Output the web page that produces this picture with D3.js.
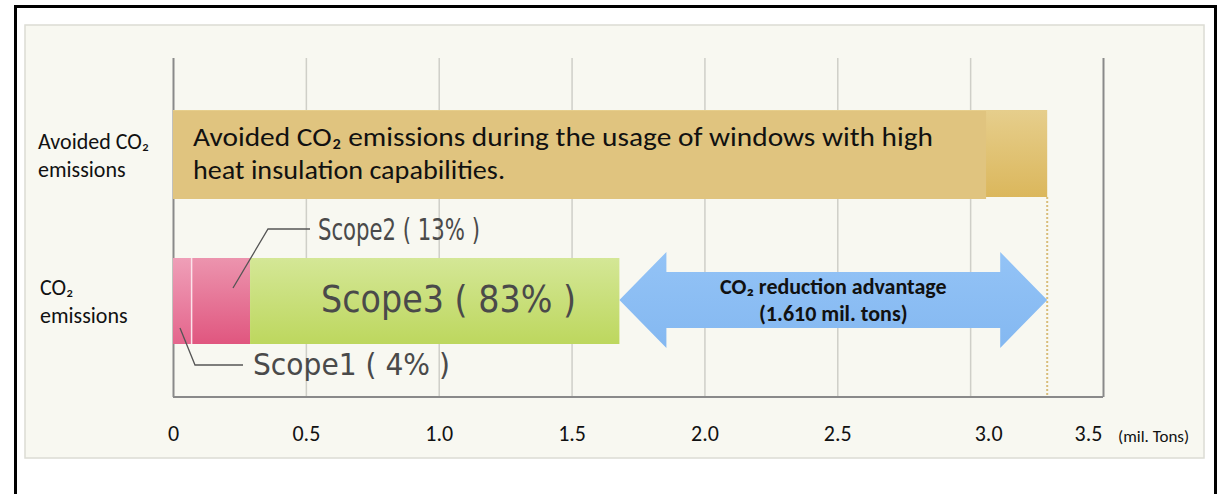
<!DOCTYPE html>
<meta charset="utf-8">
<style>
body { margin: 0; background: #fff; }
svg { display: block; }
.lab { font-family: Carlito, Lato, "Open Sans", sans-serif; fill: #111; }
.scope { font-family: "DejaVu Sans", "Noto Sans", sans-serif; fill: #4a4a4a; }
</style>
<body>
<div id="chart"></div>
<script src="https://d3js.org/d3.v7.min.js"></script>
<script>
// values (mil. tons)
var rows = ['Avoided', 'Emissions']
var scopeNames = ['Scope1', 'Scope2', 'Scope3']
var scopeShares = [4, 13, 83]
var scopeValues = [0.07, 0.22, 1.39]
var avoidedValue = 3.29
var reductionLabel = '(1.610 mil. tons)'
var xTicks = [0, 0.5, 1.0, 1.5, 2.0, 2.5, 3.0, 3.5]

var W = 1220, H = 494
var plot = { left: 173, right: 1103, top: 58, bottom: 397 }

var svg = d3.select('#chart').append('svg')
    .attr('width', W)
    .attr('height', H)

var defs = svg.append('defs')
function grad(id, top, bottom) {
    var g = defs.append('linearGradient').attr('id', id)
        .attr('x1', 0).attr('y1', 0).attr('x2', 0).attr('y2', 1)
    g.append('stop').attr('offset', 0).attr('stop-color', top)
    g.append('stop').attr('offset', 1).attr('stop-color', bottom)
}
grad('gPink1', '#ef9fb8', '#e4658c')
grad('gPink2', '#ec94ae', '#e0567f')
grad('gGreen', '#d4e796', '#bdd75e')
grad('gTan', '#e6ce8c', '#dbb75c')
grad('gBlue', '#93c3f6', '#84b8f1')

// frame + cream panel
svg.append('rect').attr('x', 15.5).attr('y', 6.5).attr('width', 1200).attr('height', 540)
    .style('fill', '#fff').style('stroke', '#000').style('stroke-width', 3)
svg.append('rect').attr('x', 25).attr('y', 25).attr('width', 1179).attr('height', 433)
    .style('fill', '#f8f8f1').style('stroke', '#dcdcd4').style('stroke-width', 1.5)

var x = d3.scaleLinear().domain([0, 3.5]).range([plot.left, plot.right])
var y = d3.scalePoint().domain(rows).range([154, 300])
var barH = 88

// grid
var grid = svg.append('g')
    .attr('transform', 'translate(0,' + plot.bottom + ')')
    .call(d3.axisBottom(x).tickValues(xTicks).tickSize(-(plot.bottom - plot.top)).tickFormat(''))
grid.select('.domain').remove()
grid.selectAll('.tick line')
    .style('stroke', function (d) { return d === 0 || d === 3.5 ? '#8a8a8a' : '#cfcfc8' })
    .style('stroke-width', function (d) { return d === 0 || d === 3.5 ? 2 : 1.5 })
svg.append('line')
    .attr('x1', x(0)).attr('x2', x(3.5))
    .attr('y1', plot.bottom).attr('y2', plot.bottom)
    .style('stroke', '#8a8a8a').style('stroke-width', 2)

// tick labels (the last two sit a little off their gridlines in the original)
var nudge = { 3: 18, 3.5: -15 }
var ax = svg.append('g')
    .attr('transform', 'translate(0,' + 441 + ')')
    .call(d3.axisBottom(x).tickValues(xTicks).tickSize(0)
        .tickFormat(function (d) { return d === 0 ? '0' : d3.format('.1f')(d) }))
ax.select('.domain').remove()
ax.selectAll('text')
    .attr('class', 'lab')
    .attr('y', 0).attr('dy', 0)
    .attr('dx', function (d) { return nudge[d] || 0 })
    .style('font-size', '22px')
    .style('fill', '#111')
svg.append('text').attr('class', 'lab')
    .attr('x', 1118).attr('y', 442)
    .style('font-size', '17px')
    .text('(mil. Tons)')

// avoided bar
var yA = y('Avoided') - barH / 2
svg.append('rect')
    .attr('x', x(0)).attr('y', yA)
    .attr('width', x(avoidedValue) - x(0)).attr('height', barH - 1)
    .style('fill', 'url(#gTan)')
svg.append('line')
    .attr('x1', x(avoidedValue)).attr('x2', x(avoidedValue))
    .attr('y1', yA + barH - 1).attr('y2', plot.bottom)
    .style('stroke', '#d9bd7a').style('stroke-width', 2).style('stroke-dasharray', '2,2')
svg.append('rect')
    .attr('x', x(0)).attr('y', yA + 1)
    .attr('width', x(3.06) - x(0)).attr('height', barH)
    .style('fill', '#e0c47f')

svg.append('text').attr('class', 'lab').attr('x', 193).attr('y', 146).style('font-size', '27px')
    .attr('textLength', 740).attr('lengthAdjust', 'spacingAndGlyphs')
    .text('Avoided CO\u2082 emissions during the usage of windows with high')
svg.append('text').attr('class', 'lab').attr('x', 193).attr('y', 179).style('font-size', '27px')
    .attr('textLength', 312).attr('lengthAdjust', 'spacingAndGlyphs')
    .text('heat insulation capabilities.')

// row labels
svg.append('text').attr('class', 'lab').attr('x', 38).attr('y', 149).style('font-size', '22px')
    .text('Avoided CO\u2082')
svg.append('text').attr('class', 'lab').attr('x', 38).attr('y', 177).style('font-size', '22px').text('emissions')
svg.append('text').attr('class', 'lab').attr('x', 40).attr('y', 295).style('font-size', '22px')
    .text('CO\u2082')
svg.append('text').attr('class', 'lab').attr('x', 40).attr('y', 323).style('font-size', '22px').text('emissions')

// emission stack
var yE = y('Emissions') - barH / 2 + 2
var stack = []
var acc = 0
scopeValues.forEach(function (v, i) {
    stack.push({ name: scopeNames[i], share: scopeShares[i], x0: acc, x1: acc + v })
    acc += v
})
var total = acc
var fills = ['url(#gPink1)', 'url(#gPink2)', 'url(#gGreen)']
svg.selectAll('rect.seg')
    .data(stack)
    .enter()
    .append('rect')
    .attr('class', 'seg')
    .attr('x', function (d) { return x(d.x0) })
    .attr('y', yE)
    .attr('width', function (d) { return x(d.x1) - x(d.x0) })
    .attr('height', barH - 2)
    .style('fill', function (d, i) { return fills[i] })
svg.append('line')
    .attr('x1', x(stack[0].x1)).attr('x2', x(stack[0].x1))
    .attr('y1', yE).attr('y2', yE + barH - 2)
    .style('stroke', '#fbe3ea').style('stroke-width', 1.5)

// leader lines
var cy = y('Emissions')
var lead = svg.append('g').style('fill', 'none').style('stroke', '#555').style('stroke-width', 1.3)
lead.append('path').attr('d', d3.line()([[233, cy - 12], [268, cy - 71], [310, cy - 71]]))
lead.append('path').attr('d', d3.line()([[180, cy + 28], [195, cy + 65], [243, cy + 65]]))

function scopeText(d, xPos, yPos, size, len) {
    svg.append('text').attr('class', 'scope')
        .attr('x', xPos).attr('y', yPos)
        .attr('textLength', len).attr('lengthAdjust', 'spacingAndGlyphs')
        .style('font-size', size)
        .text(d.name + ' ( ' + d.share + '% )')
}
scopeText(stack[1], 318, cy - 60, '30px', 162)
scopeText(stack[2], 321, cy + 12, '38px', 255)
scopeText(stack[0], 253, cy + 75, '30px', 197)

// reduction arrow
var ax0 = x(total), ax1 = x(avoidedValue)
var sh = 28, hh = 48, hl = 47
svg.append('path')
    .attr('d', d3.line()([
        [ax0, cy], [ax0 + hl, cy - hh], [ax0 + hl, cy - sh], [ax1 - hl, cy - sh],
        [ax1 - hl, cy - hh], [ax1, cy], [ax1 - hl, cy + hh], [ax1 - hl, cy + sh],
        [ax0 + hl, cy + sh], [ax0 + hl, cy + hh]
    ]) + 'Z')
    .style('fill', 'url(#gBlue)')
var mid = (ax0 + ax1) / 2
svg.append('text').attr('class', 'lab').attr('x', mid).attr('y', cy - 6)
    .attr('text-anchor', 'middle').style('font-size', '22px').style('font-weight', 'bold')
    .text('CO\u2082 reduction advantage')
svg.append('text').attr('class', 'lab').attr('x', mid).attr('y', cy + 21)
    .attr('text-anchor', 'middle').style('font-size', '22px').style('font-weight', 'bold')
    .text(reductionLabel)
</script>
</body>
